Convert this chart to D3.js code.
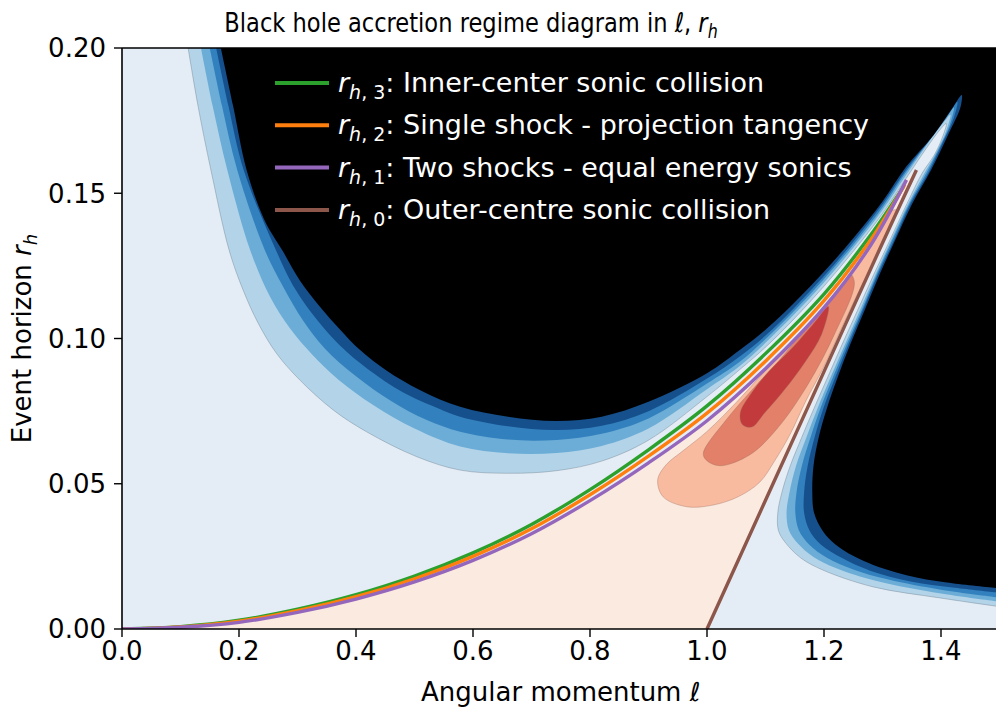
<!DOCTYPE html>
<html><head><meta charset="utf-8">
<script src="https://cdn.jsdelivr.net/npm/d3@7"></script>
<style>
body{margin:0;background:#fff}
text{font-family:"DejaVu Sans",sans-serif}
</style>
</head><body>
<svg id="c" width="996" height="711"></svg>
<script>
// ---------- data ----------
const xTicks = [0.0, 0.2, 0.4, 0.6, 0.8, 1.0, 1.2, 1.4];
const yTicks = [0.00, 0.05, 0.10, 0.15, 0.20];

// transition curves [ell, r_h]
const rh3 = [[0,0],[0.1,0.0008],[0.2,0.0030],[0.3,0.0068],[0.4,0.0118],[0.5,0.0182],[0.6,0.0262],[0.7,0.0360],[0.8,0.0480],[0.9,0.0617],[1.0,0.0768],[1.1,0.0948],[1.2,0.1153],[1.28,0.1357],[1.336,0.1523]];
const rh2 = [[0,0],[0.1,0.0007],[0.2,0.0027],[0.3,0.0063],[0.4,0.0111],[0.5,0.0173],[0.6,0.0250],[0.7,0.0345],[0.8,0.0462],[0.9,0.0595],[1.0,0.0743],[1.1,0.0922],[1.2,0.1130],[1.28,0.1340],[1.338,0.1530]];
const rh1 = [[0,0],[0.1,0.0006],[0.2,0.0023],[0.3,0.0057],[0.4,0.0103],[0.5,0.0162],[0.6,0.0236],[0.7,0.0328],[0.8,0.0442],[0.9,0.0572],[1.0,0.0717],[1.1,0.0896],[1.2,0.1106],[1.28,0.1322],[1.341,0.1546]];
const rh0 = [[1.0,0],[1.1,0.0443],[1.2,0.0886],[1.3,0.1329],[1.358,0.158]];

// blue contour levels (outer -> inner); the last one borders the black region
const blue0 = [[0.113,0.200],[0.130,0.180],[0.152,0.158],[0.183,0.1305],[0.207,0.1167],[0.233,0.1052],[0.264,0.0949],[0.304,0.0857],[0.361,0.0754],[0.418,0.0679],[0.504,0.0593],[0.578,0.0547],[0.66,0.0536],[0.743,0.0545],[0.82,0.0578],[0.90,0.0650],[1.00,0.0800],[1.056,0.0893],[1.10,0.0970],[1.15,0.1070],[1.20,0.1180],[1.25,0.1300],[1.30,0.1430],[1.34,0.1550],[1.375,0.1655],[1.398,0.1718],[1.409,0.1740],
  [1.402,0.169],[1.388,0.163],[1.368,0.157],[1.342,0.1465],[1.313,0.134],[1.285,0.122],[1.258,0.110],[1.231,0.098],[1.207,0.087],[1.183,0.076],[1.162,0.066],[1.142,0.056],[1.128,0.047],[1.121,0.040],[1.122,0.034],[1.133,0.030],[1.160,0.0245],[1.198,0.0203],[1.284,0.0145],[1.398,0.0107],[1.5,0.0077]];
const blue1 = [[0.135,0.200],[0.155,0.180],[0.180,0.158],[0.219,0.1305],[0.254,0.114],[0.287,0.1035],[0.325,0.0945],[0.37,0.0858],[0.43,0.0770],[0.50,0.0690],[0.578,0.0628],[0.66,0.0605],[0.743,0.0606],[0.82,0.0630],[0.90,0.0690],[1.00,0.0825],[1.056,0.0905],[1.10,0.0985],[1.15,0.1085],[1.20,0.1193],[1.25,0.1312],[1.30,0.1442],[1.34,0.1562],[1.378,0.1672],[1.405,0.1745],[1.416,0.1770],
  [1.408,0.171],[1.393,0.1645],[1.372,0.157],[1.344,0.1465],[1.315,0.134],[1.288,0.122],[1.262,0.110],[1.236,0.098],[1.212,0.087],[1.189,0.076],[1.170,0.066],[1.152,0.056],[1.141,0.047],[1.136,0.040],[1.140,0.034],[1.155,0.0295],[1.182,0.0248],[1.220,0.0210],[1.290,0.0165],[1.40,0.0122],[1.5,0.0094]];
const blue2 = [[0.150,0.200],[0.171,0.180],[0.197,0.158],[0.244,0.1305],[0.275,0.118],[0.310,0.106],[0.347,0.0965],[0.40,0.0870],[0.46,0.0785],[0.52,0.0720],[0.578,0.0679],[0.66,0.0652],[0.743,0.0651],[0.82,0.0672],[0.90,0.0725],[1.00,0.0845],[1.056,0.0920],[1.10,0.0998],[1.15,0.1097],[1.20,0.1205],[1.25,0.1323],[1.30,0.1452],[1.34,0.1572],[1.380,0.1682],[1.410,0.1762],[1.422,0.1795],
  [1.415,0.1735],[1.398,0.166],[1.375,0.157],[1.346,0.1465],[1.317,0.134],[1.290,0.122],[1.265,0.110],[1.239,0.098],[1.216,0.087],[1.194,0.076],[1.177,0.066],[1.162,0.056],[1.153,0.047],[1.151,0.040],[1.157,0.034],[1.175,0.029],[1.205,0.0245],[1.250,0.0205],[1.310,0.0170],[1.40,0.0135],[1.5,0.0108]];
const blue3 = [[0.161,0.200],[0.182,0.180],[0.208,0.158],[0.263,0.1305],[0.296,0.117],[0.335,0.106],[0.373,0.0975],[0.42,0.0895],[0.48,0.0815],[0.54,0.0760],[0.578,0.0731],[0.66,0.0698],[0.743,0.0685],[0.82,0.0700],[0.90,0.0750],[1.00,0.0862],[1.056,0.0938],[1.10,0.1010],[1.15,0.1108],[1.20,0.1215],[1.25,0.1333],[1.30,0.1462],[1.34,0.1580],[1.383,0.1690],[1.415,0.1780],[1.428,0.1815],
  [1.422,0.176],[1.403,0.1675],[1.378,0.157],[1.348,0.1465],[1.320,0.134],[1.292,0.122],[1.267,0.110],[1.242,0.098],[1.220,0.087],[1.199,0.076],[1.184,0.066],[1.172,0.056],[1.166,0.047],[1.166,0.040],[1.175,0.034],[1.195,0.029],[1.230,0.0245],[1.280,0.0200],[1.350,0.0163],[1.42,0.0143],[1.5,0.0125]];
const blue4 = [[0.169,0.200],[0.190,0.180],[0.213,0.158],[0.243,0.141],[0.275,0.130],[0.304,0.120],[0.338,0.111],[0.373,0.103],[0.407,0.096],[0.452,0.089],[0.509,0.0823],[0.578,0.0765],[0.66,0.0731],[0.743,0.0716],[0.82,0.0731],[0.90,0.0782],[1.00,0.0880],[1.056,0.0960],[1.10,0.1030],[1.15,0.1125],[1.20,0.1230],[1.25,0.1345],[1.30,0.1472],[1.34,0.1590],[1.387,0.1700],[1.421,0.1798],[1.4353,0.1838],
  [1.4335,0.1798],[1.413,0.1705],[1.383,0.158],[1.351,0.1465],[1.322,0.134],[1.295,0.122],[1.270,0.110],[1.245,0.098],[1.224,0.087],[1.205,0.076],[1.191,0.066],[1.182,0.056],[1.180,0.047],[1.183,0.040],[1.197,0.034],[1.220,0.029],[1.267,0.0235],[1.341,0.0185],[1.41,0.0160],[1.5,0.0140]];

// red contour levels (closed loops, clipped to the region between r_h,1 and r_h,0)
const red1 = [[0.9157,0.0513],[0.93,0.0565],[0.96,0.0615],[1.0,0.0680],[1.05,0.0780],[1.1,0.0890],[1.15,0.1000],[1.2,0.1120],[1.25,0.1250],[1.29,0.1360],[1.315,0.1440],[1.326,0.1440],
  [1.306,0.1340],[1.264,0.1180],[1.231,0.1040],[1.199,0.0900],[1.169,0.0785],[1.142,0.0670],[1.116,0.0580],[1.090,0.0505],[1.053,0.0455],[1.011,0.0427],[0.965,0.0421],[0.925,0.0455]];
const red2 = [[0.9937,0.0605],[1.0336,0.0722],[1.0792,0.0828],[1.1362,0.0955],[1.1932,0.1112],[1.2444,0.1222],[1.2520,0.1190],[1.2180,0.1015],[1.1720,0.0840],[1.1200,0.0690],[1.0735,0.0600],[1.0222,0.0562],[0.9995,0.0580]];
const red3 = [[1.0570,0.0745],[1.0770,0.0815],[1.1060,0.0887],[1.1460,0.0968],[1.1810,0.1048],[1.2074,0.1110],[1.1960,0.1015],[1.1680,0.0920],[1.1330,0.0825],[1.0990,0.0745],[1.0760,0.0695],[1.0600,0.0705]];

const blueColors = ["#b3d3e8","#6badd6","#3280bd","#154f8c","#000000"];
const redColors  = ["#f8bba0","#e2806a","#c33a3c"];
const bgColor = "#e4edf6";
const orangeBase = "#fbeae0";

const legendItems = [
  {sub:"3", label:": Inner-center sonic collision", color:"#2ca02c"},
  {sub:"2", label:": Single shock - projection tangency", color:"#ff7f0e"},
  {sub:"1", label:": Two shocks - equal energy sonics", color:"#9467bd"},
  {sub:"0", label:": Outer-centre sonic collision", color:"#8c564b"}
];

// ---------- drawing ----------
const svg = d3.select("#c");
const x = d3.scaleLinear().domain([0,1.5]).range([122,999.5]);
const y = d3.scaleLinear().domain([0,0.2]).range([629,48]);
const X0 = x(0), X1 = x(1.5), Y0 = y(0), Y1 = y(0.2);

const defs = svg.append("defs");
defs.append("clipPath").attr("id","plotclip").append("rect")
  .attr("x",X0).attr("y",Y1).attr("width",X1-X0).attr("height",Y0-Y1);

const line = d3.line().x(d=>x(d[0])).y(d=>y(d[1])).curve(d3.curveCatmullRom.alpha(0.5));
const closed = d3.line().x(d=>x(d[0])).y(d=>y(d[1])).curve(d3.curveCatmullRomClosed.alpha(0.5));

// region between r_h,1 and r_h,0
const rev0 = rh0.slice().reverse();
const regionPath = line(rh1) + line(rev0).replace(/^M/,"L") + "Z";
defs.append("clipPath").attr("id","redclip").append("path").attr("d", regionPath);

const g = svg.append("g").attr("clip-path","url(#plotclip)");
g.append("rect").attr("x",X0).attr("y",Y1).attr("width",X1-X0).attr("height",Y0-Y1).attr("fill",bgColor);

const levels = [blue0,blue1,blue2,blue3,blue4];
levels.forEach((pts,i)=>{
  const last = pts[pts.length-1];
  const d = line(pts) + "L" + (X1+5) + "," + y(last[1]) + "L" + (X1+5) + "," + (Y1-5) +
            "L" + x(pts[0][0]) + "," + (Y1-5) + "Z";
  g.append("path").attr("d",d).attr("fill",blueColors[i]);
});
g.append("path").attr("d",line(blue0)).attr("fill","none").attr("stroke","#6f7f8c").attr("stroke-width",0.6).attr("stroke-opacity",0.7);

// red family
g.append("path").attr("d",regionPath).attr("fill",orangeBase);
const rg = g.append("g").attr("clip-path","url(#redclip)");
[red1,red2,red3].forEach((pts,i)=>{
  rg.append("path").attr("d",closed(pts)).attr("fill",redColors[i])
    .attr("stroke","#9a6a5a").attr("stroke-width",0.6).attr("stroke-opacity",0.6);
});

// transition lines
[[rh3,"#2ca02c"],[rh2,"#ff7f0e"],[rh1,"#9467bd"],[rh0,"#8c564b"]].forEach(([pts,c])=>{
  g.append("path").attr("d",line(pts)).attr("fill","none").attr("stroke",c)
    .attr("stroke-width",3.4).attr("stroke-linecap","butt");
});

// axes
const ax = svg.append("g");
ax.append("line").attr("x1",X0).attr("x2",X0).attr("y1",Y1).attr("y2",Y0).attr("stroke","#000").attr("stroke-width",1.6);
ax.append("line").attr("x1",X0).attr("x2",X1).attr("y1",Y0).attr("y2",Y0).attr("stroke","#000").attr("stroke-width",1.6);
ax.append("line").attr("x1",X0).attr("x2",X1).attr("y1",Y1).attr("y2",Y1).attr("stroke","#000").attr("stroke-width",1.6);

xTicks.forEach(t=>{
  ax.append("line").attr("x1",x(t)).attr("x2",x(t)).attr("y1",Y0).attr("y2",Y0+8).attr("stroke","#000").attr("stroke-width",1.4);
  ax.append("text").attr("x",x(t)).attr("y",660).attr("text-anchor","middle")
    .attr("font-size",26).text(t.toFixed(1));
});
yTicks.forEach(t=>{
  ax.append("line").attr("x1",X0-8).attr("x2",X0).attr("y1",y(t)).attr("y2",y(t)).attr("stroke","#000").attr("stroke-width",1.4);
  ax.append("text").attr("x",X0-16).attr("y",y(t)).attr("dy","0.36em").attr("text-anchor","end")
    .attr("font-size",26).text(t.toFixed(2));
});

// axis labels
svg.append("text").attr("x",(X0+X1)/2).attr("y",701).attr("text-anchor","middle").attr("font-size",26)
  .text("Angular momentum \u2113");
const yl = svg.append("text").attr("transform",`translate(31,${(Y0+Y1)/2}) rotate(-90)`).attr("text-anchor","middle").attr("font-size",26);
yl.append("tspan").text("Event horizon ");
yl.append("tspan").attr("font-style","italic").text("r");
yl.append("tspan").attr("font-style","italic").attr("font-size",18).attr("dy",6).text("h");

// title (condensed horizontally like the reference)
const tt = svg.append("text").attr("transform","translate(471,32) scale(0.836,1)")
  .attr("text-anchor","middle").attr("font-size",27);
tt.append("tspan").text("Black hole accretion regime diagram in ");
tt.append("tspan").attr("font-style","italic").text("\u2113");
tt.append("tspan").text(", ");
tt.append("tspan").attr("font-style","italic").text("r");
tt.append("tspan").attr("font-style","italic").attr("font-size",19).attr("dy",6).text("h");

// legend
const lg = svg.append("g");
legendItems.forEach((it,i)=>{
  const cy = 83 + i*42.3;
  lg.append("line").attr("x1",275).attr("x2",329).attr("y1",cy).attr("y2",cy).attr("stroke",it.color).attr("stroke-width",4);
  const t = lg.append("text").attr("x",338).attr("y",cy+9).attr("font-size",27).attr("fill","#fff");
  t.append("tspan").attr("font-style","italic").text("r");
  t.append("tspan").attr("font-style","italic").attr("font-size",19).attr("dy",7).text("h");
  t.append("tspan").attr("font-size",19).text(", " + it.sub);
  t.append("tspan").attr("dy",-7).text(it.label);
});
</script>
</body></html>
